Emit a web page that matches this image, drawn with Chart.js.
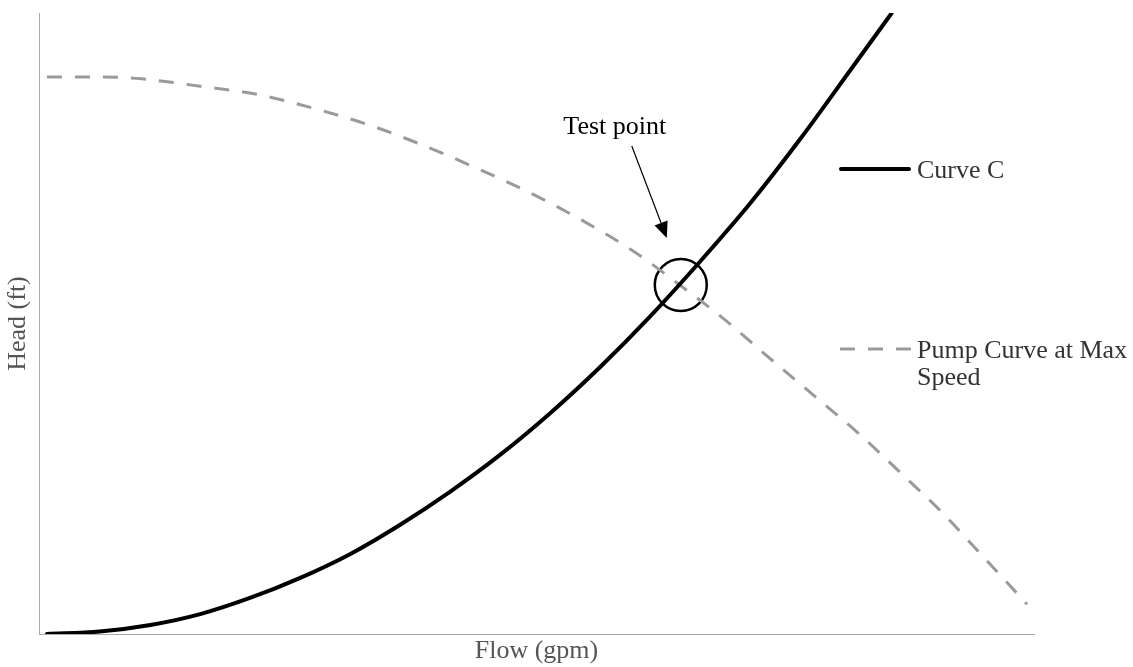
<!DOCTYPE html>
<html>
<head>
<meta charset="utf-8">
<script src="https://cdn.jsdelivr.net/npm/chart.js@4"></script>
<style>
  html, body { margin: 0; padding: 0; background: #fff; }
  #wrap { width: 1133px; height: 667px; position: relative; }
</style>
</head>
<body>
<div id="wrap"><canvas id="chart"></canvas></div>
<script>
// Curve C (system curve)
const curveFlow = [0.8, 6.1, 11.2, 16.2, 21.2, 26.2, 31.3, 36.3, 41.3, 46.3, 51.4, 56.4, 61.4, 66.4, 71.5, 76.5, 81.5, 85.7];
const curveHead = [0, 0.4, 1.45, 3.2, 5.8, 9.0, 12.9, 17.6, 22.9, 28.8, 35.6, 43.0, 51.1, 59.9, 69.4, 79.7, 90.7, 100];

// Pump curve at max speed
const pumpFlow = [0.8, 6.1, 10.3, 16.2, 21.9, 27.5, 33.3, 38.6, 44.0, 49.4, 54.6, 59.6, 64.4, 68.7, 73.3, 77.8, 82.3, 86.5, 90.8, 94.8, 99.3];
const pumpHead = [89.7, 89.7, 89.4, 88.2, 86.9, 84.7, 81.9, 78.7, 75.0, 71.0, 66.6, 61.8, 56.2, 50.9, 44.6, 38.5, 32.4, 26.1, 19.5, 12.6, 4.8];

// Test point (intersection)
const testFlow = [64.5];
const testHead = [56.2];

const seriesNames = ['Curve C', 'Pump Curve at Max Speed'];

const FONT = '"Liberation Serif", "Times New Roman", serif';

const toXY = (xs, ys) => xs.map((x, i) => ({ x: x, y: ys[i] }));

// draws the legend, the "Test point" label and its arrow
const notesPlugin = {
  id: 'notes',
  afterDatasetsDraw(chart) {
    const ctx = chart.ctx;
    const xs = chart.scales.x, ys = chart.scales.y;
    ctx.save();

    // legend entries
    ctx.font = '26px ' + FONT;
    ctx.fillStyle = '#333';
    ctx.textBaseline = 'middle';
    ctx.textAlign = 'left';

    ctx.strokeStyle = '#000';
    ctx.lineWidth = 4;
    ctx.lineCap = 'round';
    ctx.beginPath();
    ctx.moveTo(841, 169);
    ctx.lineTo(909, 169);
    ctx.stroke();
    ctx.fillText(seriesNames[0], 917, 171);

    ctx.strokeStyle = '#9a9a9a';
    ctx.lineWidth = 3;
    ctx.lineCap = 'butt';
    ctx.setLineDash([15, 13]);
    ctx.beginPath();
    ctx.moveTo(840, 349);
    ctx.lineTo(911, 349);
    ctx.stroke();
    ctx.setLineDash([]);
    ctx.fillText('Pump Curve at Max', 917, 351);
    ctx.fillText('Speed', 917, 378);

    // test point label + arrow
    const px = xs.getPixelForValue(testFlow[0]);
    const py = ys.getPixelForValue(testHead[0]);
    ctx.fillStyle = '#000';
    ctx.textAlign = 'center';
    ctx.textBaseline = 'alphabetic';
    ctx.fillText('Test point', px - 66, py - 151);

    const x0 = px - 49, y0 = py - 139;
    const x1 = px - 14, y1 = py - 47;
    const ang = Math.atan2(y1 - y0, x1 - x0);
    const head = 16, half = 7;
    const bx = x1 - head * Math.cos(ang), by = y1 - head * Math.sin(ang);
    ctx.strokeStyle = '#000';
    ctx.lineWidth = 1.2;
    ctx.beginPath();
    ctx.moveTo(x0, y0);
    ctx.lineTo(bx, by);
    ctx.stroke();
    ctx.beginPath();
    ctx.moveTo(x1, y1);
    ctx.lineTo(bx + half * Math.sin(ang), by - half * Math.cos(ang));
    ctx.lineTo(bx - half * Math.sin(ang), by + half * Math.cos(ang));
    ctx.closePath();
    ctx.fill();

    ctx.restore();
  }
};

new Chart(document.getElementById('chart'), {
  type: 'line',
  data: {
    datasets: [
      {
        label: seriesNames[0],
        data: toXY(curveFlow, curveHead),
        borderColor: '#000',
        borderWidth: 4,
        pointRadius: 0,
        cubicInterpolationMode: 'monotone',
        borderCapStyle: 'round'
      },
      {
        label: seriesNames[1],
        data: toXY(pumpFlow, pumpHead),
        borderColor: '#9a9a9a',
        borderWidth: 3,
        borderDash: [15, 13],
        pointRadius: 0,
        cubicInterpolationMode: 'monotone'
      },
      {
        label: 'Test point',
        data: toXY(testFlow, testHead),
        showLine: false,
        pointRadius: 26,
        pointBorderWidth: 2.5,
        pointBorderColor: '#000',
        pointBackgroundColor: 'rgba(0,0,0,0)'
      }
    ]
  },
  options: {
    responsive: true,
    maintainAspectRatio: false,
    animation: false,
    events: [],
    layout: { autoPadding: false, padding: { top: 13, right: 99, left: 0, bottom: 0 } },
    plugins: {
      legend: { display: false },
      tooltip: { enabled: false }
    },
    scales: {
      x: {
        type: 'linear',
        min: 0,
        max: 100,
        grid: { display: false },
        border: { display: true, color: '#aaa', width: 1, dash: [2, 1] },
        ticks: { display: false },
        title: {
          display: true,
          text: 'Flow (gpm)',
          color: '#555',
          font: { family: FONT, size: 26 },
          padding: { top: 0, bottom: 0 }
        },
        afterFit: (s) => { s.height = 33; }
      },
      y: {
        type: 'linear',
        min: 0,
        max: 100,
        grid: { display: false },
        border: { display: true, color: '#aaa', width: 1, dash: [2, 1] },
        ticks: { display: false },
        title: {
          display: true,
          text: 'Head (ft)',
          color: '#555',
          font: { family: FONT, size: 26 },
          padding: { top: 3, bottom: 0 }
        },
        afterFit: (s) => { s.width = 39; }
      }
    }
  },
  plugins: [notesPlugin]
});
</script>
</body>
</html>
